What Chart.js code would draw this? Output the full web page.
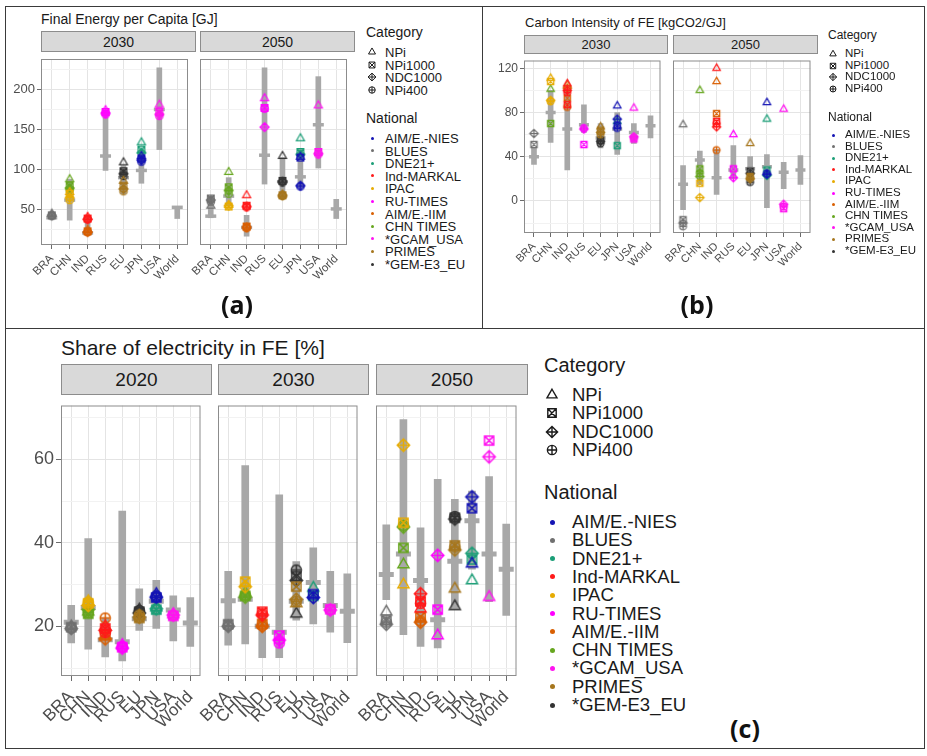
<!DOCTYPE html>
<html>
<head>
<meta charset="utf-8">
<script src="https://cdn.jsdelivr.net/npm/chart.js@4.4.1/dist/chart.umd.min.js"></script>
<style>
  body { margin: 0; background: #fff; }
  #fig { position: relative; width: 927px; height: 756px; overflow: hidden; background: #fff;
         font-family: "Liberation Sans", Arial, sans-serif; color: #1a1a1a; }
  #fig canvas { position: absolute; }
  .strip { position: absolute; background: #d9d9d9; border: 1px solid #8c8c8c; box-sizing: border-box;
           display: flex; align-items: center; justify-content: center; color: #1a1a1a; }
  .txt { position: absolute; white-space: nowrap; line-height: 1; transform: translateY(-50%); }
  .line { position: absolute; background: #3a3a3a; }
  .plabel { position: absolute; font-family: "Open Sans", sans-serif; font-weight: bold; line-height: 1;
            transform: translate(-50%, -50%); color: #111; }
</style>
</head>
<body>
<div id="fig"></div>
<script>
const countries = ["BRA", "CHN", "IND", "RUS", "EU", "JPN", "USA", "World"];
const categories = ["NPi", "NPi1000", "NDC1000", "NPi400"];
const models = ["AIM/E.-NIES", "BLUES", "DNE21+", "Ind-MARKAL", "IPAC", "RU-TIMES",
                "AIM/E.-IIM", "CHN TIMES", "*GCAM_USA", "PRIMES", "*GEM-E3_EU"];
const modelColors = ["#1414b4", "#707070", "#1b9e77", "#ff1a1a", "#e6ab02", "#ff00ff",
                     "#d95f02", "#66a61e", "#ff14f0", "#a6761d", "#333333"];

// ---- (a) Final Energy per Capita [GJ] ----
const feLow2030  = [39, 37, 18, 99, 70, 83, 125, 39];
const feHigh2030 = [45, 88, 41, 174, 105, 125, 227, 54];
const feMed2030  = [40, 62, 21, 117, 90, 99, 175, 53];
const feLow2050  = [40, 55, 17, 82, 64, 78, 102, 39];
const feHigh2050 = [66, 90, 43, 227, 115, 125, 216, 63];
const feMed2050  = [42, 67, 28, 118, 85, 91, 156, 51];
const fePts2030 = [
  ["BRA","BLUES","NPi",45],["BRA","BLUES","NPi1000",43],["BRA","BLUES","NDC1000",43],["BRA","BLUES","NPi400",42],
  ["CHN","CHN TIMES","NPi",88],["CHN","CHN TIMES","NPi1000",80],["CHN","CHN TIMES","NDC1000",77],["CHN","CHN TIMES","NPi400",75],
  ["CHN","IPAC","NPi",72],["CHN","IPAC","NPi1000",70],["CHN","IPAC","NDC1000",65],["CHN","IPAC","NPi400",62],
  ["IND","Ind-MARKAL","NPi",41],["IND","Ind-MARKAL","NPi1000",39],["IND","Ind-MARKAL","NDC1000",38],["IND","Ind-MARKAL","NPi400",38],
  ["IND","AIM/E.-IIM","NPi",25],["IND","AIM/E.-IIM","NPi1000",23],["IND","AIM/E.-IIM","NDC1000",22],["IND","AIM/E.-IIM","NPi400",22],
  ["RUS","RU-TIMES","NPi",174],["RUS","RU-TIMES","NPi1000",172],["RUS","RU-TIMES","NDC1000",170],["RUS","RU-TIMES","NPi400",169],
  ["EU","*GEM-E3_EU","NPi",109],["EU","*GEM-E3_EU","NPi1000",98],["EU","*GEM-E3_EU","NDC1000",95],["EU","*GEM-E3_EU","NPi400",92],
  ["EU","PRIMES","NPi",86],["EU","PRIMES","NPi1000",80],["EU","PRIMES","NDC1000",76],["EU","PRIMES","NPi400",73],
  ["JPN","DNE21+","NPi",134],["JPN","DNE21+","NPi1000",125],["JPN","DNE21+","NDC1000",121],
  ["JPN","AIM/E.-NIES","NPi",117],["JPN","AIM/E.-NIES","NPi1000",114],["JPN","AIM/E.-NIES","NDC1000",112],["JPN","AIM/E.-NIES","NPi400",110],
  ["USA","*GCAM_USA","NPi",181],["USA","*GCAM_USA","NPi1000",172],["USA","*GCAM_USA","NDC1000",169],["USA","*GCAM_USA","NPi400",167]
];
const fePts2050 = [
  ["BRA","BLUES","NPi",55],["BRA","BLUES","NPi1000",64],["BRA","BLUES","NDC1000",62],["BRA","BLUES","NPi400",60],
  ["CHN","CHN TIMES","NPi",97],["CHN","CHN TIMES","NPi1000",78],["CHN","CHN TIMES","NDC1000",74],["CHN","CHN TIMES","NPi400",70],
  ["CHN","IPAC","NPi",56],["CHN","IPAC","NPi1000",54],["CHN","IPAC","NDC1000",55],
  ["IND","Ind-MARKAL","NPi",68],["IND","Ind-MARKAL","NPi1000",55],["IND","Ind-MARKAL","NDC1000",54],["IND","Ind-MARKAL","NPi400",53],
  ["IND","AIM/E.-IIM","NPi1000",29],["IND","AIM/E.-IIM","NDC1000",28],["IND","AIM/E.-IIM","NPi400",27],
  ["RUS","RU-TIMES","NPi",189],["RUS","RU-TIMES","NPi1000",177],["RUS","RU-TIMES","NDC1000",153],["RUS","RU-TIMES","NPi400",176],
  ["EU","*GEM-E3_EU","NPi",117],["EU","*GEM-E3_EU","NPi1000",86],["EU","*GEM-E3_EU","NDC1000",85],["EU","*GEM-E3_EU","NPi400",84],
  ["EU","PRIMES","NPi",69],["EU","PRIMES","NPi1000",68],["EU","PRIMES","NDC1000",68],["EU","PRIMES","NPi400",67],
  ["JPN","DNE21+","NPi",139],["JPN","DNE21+","NPi1000",122],["JPN","DNE21+","NDC1000",119],
  ["JPN","AIM/E.-NIES","NPi",116],["JPN","AIM/E.-NIES","NPi1000",115],["JPN","AIM/E.-NIES","NDC1000",80],["JPN","AIM/E.-NIES","NPi400",79],
  ["USA","*GCAM_USA","NPi",180],["USA","*GCAM_USA","NPi1000",122],["USA","*GCAM_USA","NDC1000",120],["USA","*GCAM_USA","NPi400",119]
];

// ---- (b) Carbon Intensity of FE [kgCO2/GJ] ----
const ciLow2030  = [33, 53, 28, 62, 48, 42, 52, 57];
const ciHigh2030 = [48, 100, 100, 87, 70, 80, 70, 77];
const ciMed2030  = [40, 80, 65, 69, 57, 65, 62, 68];
const ciLow2050  = [-8, 15, 6, 20, 15, -6, 11, 15];
const ciHigh2050 = [32, 45, 47, 50, 40, 42, 35, 41];
const ciMed2050  = [15, 37, 21, 28, 29, 31, 26, 28];
const ciPts2030 = [
  ["BRA","BLUES","NDC1000",61],["BRA","BLUES","NPi1000",51],
  ["CHN","IPAC","NPi",111],["CHN","IPAC","NPi1000",108],["CHN","IPAC","NDC1000",91],["CHN","IPAC","NPi400",90],
  ["CHN","CHN TIMES","NPi",101],["CHN","CHN TIMES","NPi1000",70],
  ["IND","Ind-MARKAL","NPi",106],["IND","Ind-MARKAL","NPi1000",87],["IND","Ind-MARKAL","NDC1000",100],["IND","Ind-MARKAL","NPi400",98],
  ["IND","AIM/E.-IIM","NPi",105],["IND","AIM/E.-IIM","NPi1000",93],["IND","AIM/E.-IIM","NDC1000",102],["IND","AIM/E.-IIM","NPi400",85],
  ["RUS","RU-TIMES","NPi1000",51],["RUS","RU-TIMES","NDC1000",65],["RUS","RU-TIMES","NPi400",66],
  ["EU","PRIMES","NPi",67],["EU","PRIMES","NPi1000",64],["EU","PRIMES","NDC1000",62],["EU","PRIMES","NPi400",60],
  ["EU","*GEM-E3_EU","NPi1000",55],["EU","*GEM-E3_EU","NDC1000",54],["EU","*GEM-E3_EU","NPi400",52],
  ["JPN","AIM/E.-NIES","NPi",86],["JPN","AIM/E.-NIES","NPi1000",68],["JPN","AIM/E.-NIES","NDC1000",74],["JPN","AIM/E.-NIES","NPi400",66],
  ["JPN","DNE21+","NPi",72],["JPN","DNE21+","NPi1000",50],
  ["USA","*GCAM_USA","NPi",84],["USA","*GCAM_USA","NPi1000",56],["USA","*GCAM_USA","NDC1000",58],["USA","*GCAM_USA","NPi400",57]
];
const ciPts2050 = [
  ["BRA","BLUES","NPi",69],["BRA","BLUES","NPi1000",-17],["BRA","BLUES","NDC1000",-20],["BRA","BLUES","NPi400",-23],
  ["CHN","CHN TIMES","NPi",100],["CHN","CHN TIMES","NPi1000",29],["CHN","CHN TIMES","NDC1000",22],["CHN","CHN TIMES","NPi400",25],
  ["CHN","IPAC","NPi1000",16],["CHN","IPAC","NDC1000",3],
  ["IND","Ind-MARKAL","NPi",120],["IND","Ind-MARKAL","NPi1000",72],["IND","Ind-MARKAL","NDC1000",67],["IND","Ind-MARKAL","NPi400",70],
  ["IND","AIM/E.-IIM","NPi",108],["IND","AIM/E.-IIM","NPi1000",79],["IND","AIM/E.-IIM","NPi400",46],
  ["RUS","RU-TIMES","NPi",60],["RUS","RU-TIMES","NPi1000",29],["RUS","RU-TIMES","NDC1000",21],
  ["EU","PRIMES","NPi",52],["EU","PRIMES","NPi1000",22],["EU","PRIMES","NDC1000",20],["EU","PRIMES","NPi400",21],
  ["EU","*GEM-E3_EU","NPi1000",27],["EU","*GEM-E3_EU","NDC1000",25],["EU","*GEM-E3_EU","NPi400",17],
  ["JPN","AIM/E.-NIES","NPi",89],["JPN","AIM/E.-NIES","NDC1000",24],["JPN","AIM/E.-NIES","NPi400",25],
  ["JPN","DNE21+","NPi",74],["JPN","DNE21+","NPi1000",28],["JPN","DNE21+","NDC1000",23],
  ["USA","*GCAM_USA","NPi",83],["USA","*GCAM_USA","NPi1000",-7],["USA","*GCAM_USA","NDC1000",-3],["USA","*GCAM_USA","NPi400",-5]
];

// ---- (c) Share of electricity in FE [%] ----
const elLow2020  = [16, 14.5, 12.7, 11.7, 19, 19.5, 16.5, 15.2];
const elHigh2020 = [25, 41, 22, 47.6, 29, 31, 27.3, 26.9];
const elMed2020  = [21, 24.5, 16.8, 16.3, 21.8, 26, 23.9, 20.8];
const elLow2030  = [15.5, 15.8, 12.5, 12.5, 21.5, 20.6, 18.6, 16.1];
const elHigh2030 = [33.2, 58.5, 23, 51.5, 35.5, 38.8, 33.2, 32.6];
const elMed2030  = [26.1, 26.5, 20, 18.6, 26, 30.5, 25, 23.6];
const elLow2050  = [26.4, 18, 15.2, 14.8, 24.2, 33.7, 25.9, 22.6];
const elHigh2050 = [44.3, 69.5, 43.6, 55.2, 50.4, 52.4, 55.9, 44.5];
const elMed2050  = [32.4, 37.3, 31, 21.6, 35.6, 45.3, 37.3, 33.7];
const elPts2020 = [
  ["BRA","BLUES","NPi",20],["BRA","BLUES","NPi1000",19.8],["BRA","BLUES","NDC1000",19.5],["BRA","BLUES","NPi400",19.6],
  ["CHN","IPAC","NPi",26],["CHN","IPAC","NPi1000",25.5],["CHN","IPAC","NDC1000",25],["CHN","IPAC","NPi400",25.8],
  ["CHN","CHN TIMES","NPi",23.5],["CHN","CHN TIMES","NPi1000",23],["CHN","CHN TIMES","NDC1000",24],["CHN","CHN TIMES","NPi400",23.3],
  ["IND","Ind-MARKAL","NPi",20],["IND","Ind-MARKAL","NPi1000",19.5],["IND","Ind-MARKAL","NDC1000",19],["IND","Ind-MARKAL","NPi400",18.5],
  ["IND","AIM/E.-IIM","NPi",17.5],["IND","AIM/E.-IIM","NPi1000",18],["IND","AIM/E.-IIM","NDC1000",17],["IND","AIM/E.-IIM","NPi400",22],
  ["RUS","RU-TIMES","NPi",15.5],["RUS","RU-TIMES","NPi1000",15],["RUS","RU-TIMES","NDC1000",14.8],["RUS","RU-TIMES","NPi400",15.2],
  ["EU","*GEM-E3_EU","NPi",24],["EU","*GEM-E3_EU","NPi1000",23.5],["EU","*GEM-E3_EU","NDC1000",23.2],["EU","*GEM-E3_EU","NPi400",23.8],
  ["EU","PRIMES","NPi",22.5],["EU","PRIMES","NPi1000",22],["EU","PRIMES","NDC1000",22.2],["EU","PRIMES","NPi400",22.7],
  ["JPN","AIM/E.-NIES","NPi",27.7],["JPN","AIM/E.-NIES","NPi1000",26.9],["JPN","AIM/E.-NIES","NDC1000",27],["JPN","AIM/E.-NIES","NPi400",27.3],
  ["JPN","DNE21+","NPi",24.5],["JPN","DNE21+","NPi1000",24],["JPN","DNE21+","NDC1000",24.2],
  ["USA","*GCAM_USA","NPi",22.9],["USA","*GCAM_USA","NPi1000",22.5],["USA","*GCAM_USA","NDC1000",22.7],["USA","*GCAM_USA","NPi400",22.6]
];
const elPts2030 = [
  ["BRA","BLUES","NPi1000",20.5],["BRA","BLUES","NDC1000",20],["BRA","BLUES","NPi400",20.2],
  ["CHN","IPAC","NPi1000",30.7],["CHN","IPAC","NDC1000",29.5],
  ["CHN","CHN TIMES","NPi",28],["CHN","CHN TIMES","NPi1000",27.3],["CHN","CHN TIMES","NDC1000",27],["CHN","CHN TIMES","NPi400",27.5],
  ["IND","Ind-MARKAL","NPi1000",23.5],["IND","Ind-MARKAL","NDC1000",22.7],["IND","Ind-MARKAL","NPi400",23],
  ["IND","AIM/E.-IIM","NPi1000",20.6],["IND","AIM/E.-IIM","NDC1000",20],["IND","AIM/E.-IIM","NPi400",20.3],
  ["RUS","RU-TIMES","NPi1000",17.8],["RUS","RU-TIMES","NDC1000",16.7],["RUS","RU-TIMES","NPi400",16],
  ["EU","*GEM-E3_EU","NPi",23],["EU","*GEM-E3_EU","NPi1000",32],["EU","*GEM-E3_EU","NDC1000",31],["EU","*GEM-E3_EU","NPi400",33.5],
  ["EU","PRIMES","NPi",25.5],["EU","PRIMES","NPi1000",29.5],["EU","PRIMES","NDC1000",26.5],["EU","PRIMES","NPi400",26],
  ["JPN","DNE21+","NPi",29.2],["JPN","DNE21+","NPi1000",27.3],
  ["JPN","AIM/E.-NIES","NPi1000",27.7],["JPN","AIM/E.-NIES","NDC1000",26.9],
  ["USA","*GCAM_USA","NPi1000",24.1],["USA","*GCAM_USA","NDC1000",23.9],["USA","*GCAM_USA","NPi400",24]
];
const elPts2050 = [
  ["BRA","BLUES","NPi",23.5],["BRA","BLUES","NPi1000",21.5],["BRA","BLUES","NDC1000",20.5],["BRA","BLUES","NPi400",21],
  ["CHN","IPAC","NPi",30],["CHN","IPAC","NPi1000",44.8],["CHN","IPAC","NDC1000",63.4],
  ["CHN","CHN TIMES","NPi",34.8],["CHN","CHN TIMES","NPi1000",38.8],["CHN","CHN TIMES","NDC1000",43.8],["CHN","CHN TIMES","NPi400",44.2],
  ["IND","Ind-MARKAL","NPi",24.2],["IND","Ind-MARKAL","NPi1000",26],["IND","Ind-MARKAL","NDC1000",27.8],["IND","Ind-MARKAL","NPi400",25.5],
  ["IND","AIM/E.-IIM","NPi1000",22.3],["IND","AIM/E.-IIM","NDC1000",21],["IND","AIM/E.-IIM","NPi400",21.3],
  ["RUS","RU-TIMES","NPi",17.8],["RUS","RU-TIMES","NPi1000",24],["RUS","RU-TIMES","NDC1000",37],
  ["EU","*GEM-E3_EU","NPi",24.8],["EU","*GEM-E3_EU","NPi1000",46],["EU","*GEM-E3_EU","NDC1000",45.7],["EU","*GEM-E3_EU","NPi400",46.3],
  ["EU","PRIMES","NPi",29],["EU","PRIMES","NPi1000",39.4],["EU","PRIMES","NDC1000",38.3],["EU","PRIMES","NPi400",39],
  ["JPN","AIM/E.-NIES","NPi",35],["JPN","AIM/E.-NIES","NPi1000",48.3],["JPN","AIM/E.-NIES","NDC1000",51],
  ["JPN","DNE21+","NPi",31],["JPN","DNE21+","NPi1000",36],["JPN","DNE21+","NDC1000",37.5],
  ["USA","*GCAM_USA","NPi",27],["USA","*GCAM_USA","NPi1000",64.5],["USA","*GCAM_USA","NDC1000",60.6]
];

const fig = document.getElementById("fig");
const FONT = '"Liberation Sans", Arial, sans-serif';
const GRAY = "#a8a8a8";

// ggplot-ish open shapes, drawn once per colour and reused as point styles
const markerCache = {};
function marker(cat, color, s, lw) {
  const key = [cat, color, s, lw].join("|");
  if (markerCache[key]) return markerCache[key];
  const n = Math.ceil(s + lw * 2 + 3);
  const cv = document.createElement("canvas");
  cv.width = n; cv.height = n;
  const g = cv.getContext("2d");
  const c = n / 2;
  g.strokeStyle = color; g.lineWidth = lw;
  g.beginPath();
  if (cat === "NPi") {
    const R = s / 1.732;
    g.moveTo(c, c - R);
    g.lineTo(c + R * 0.866, c + R * 0.5);
    g.lineTo(c - R * 0.866, c + R * 0.5);
    g.closePath();
  } else if (cat === "NPi1000") {
    const h = s * 0.42;
    g.rect(c - h, c - h, 2 * h, 2 * h);
    g.moveTo(c - h, c - h); g.lineTo(c + h, c + h);
    g.moveTo(c + h, c - h); g.lineTo(c - h, c + h);
  } else if (cat === "NDC1000") {
    const r = s * 0.56;
    g.moveTo(c, c - r); g.lineTo(c + r, c); g.lineTo(c, c + r); g.lineTo(c - r, c); g.closePath();
    g.moveTo(c, c - r); g.lineTo(c, c + r);
    g.moveTo(c - r, c); g.lineTo(c + r, c);
  } else {
    const r = s * 0.46;
    g.arc(c, c, r, 0, Math.PI * 2);
    g.moveTo(c, c - r); g.lineTo(c, c + r);
    g.moveTo(c - r, c); g.lineTo(c + r, c);
  }
  g.stroke();
  markerCache[key] = cv;
  return cv;
}

const panelBorder = {
  id: "panelBorder",
  afterDraw(ch) {
    const a = ch.chartArea, g = ch.ctx;
    g.save();
    g.strokeStyle = "#8c8c8c"; g.lineWidth = 1;
    g.strokeRect(a.left + 0.5, a.top + 0.5, a.right - a.left - 1, a.bottom - a.top - 1);
    g.restore();
  }
};

function text(str, x, y, size, extra) {
  const d = document.createElement("div");
  d.className = "txt";
  d.textContent = str;
  d.style.left = x + "px"; d.style.top = y + "px"; d.style.fontSize = size + "px";
  if (extra) Object.assign(d.style, extra);
  fig.appendChild(d);
}

function facet(p, f, low, high, med, pts, showY) {
  const cv = document.createElement("canvas");
  const W = p.padL + f.w + 1, H = 1 + p.h + p.xH;
  cv.width = W; cv.height = H;
  cv.style.left = (f.x - p.padL) + "px";
  cv.style.top = (p.top - 1) + "px";
  fig.appendChild(cv);

  const strip = document.createElement("div");
  strip.className = "strip";
  strip.textContent = f.label;
  Object.assign(strip.style, { left: f.x + "px", top: p.stripTop + "px", width: f.w + "px",
    height: (p.top - p.stripTop + 1) + "px", fontSize: p.stripFont + "px" });
  fig.appendChild(strip);

  const datasets = [];
  models.forEach((m, mi) => {
    const rows = pts.filter(r => r[1] === m);
    if (!rows.length) return;
    datasets.push({
      type: "scatter", order: 0,
      data: rows.map(r => ({ x: countries.indexOf(r[0]), y: r[3], cat: r[2] })),
      pointStyle: c => marker(c.raw.cat, modelColors[mi], p.mk, p.lw),
      pointRadius: 4
    });
  });
  datasets.push({
    type: "scatter", order: 1,
    data: med.map((v, i) => ({ x: i, y: v })),
    pointStyle: "line", pointRadius: p.medW / 2, borderWidth: p.medT,
    borderColor: GRAY, backgroundColor: GRAY
  });
  datasets.push({
    type: "bar", order: 2,
    data: low.map((v, i) => ({ x: i, y: [v, high[i]] })),
    backgroundColor: GRAY, barThickness: p.barW, borderWidth: 0
  });

  const ticksY = p.minor.concat(p.major).sort((a, b) => a - b);
  new Chart(cv, {
    type: "bar",
    data: { datasets },
    plugins: [panelBorder],
    options: {
      responsive: false, animation: false, devicePixelRatio: 1,
      layout: { padding: { top: 1, right: 1, left: 0, bottom: 0 } },
      plugins: { legend: { display: false }, tooltip: { enabled: false } },
      scales: {
        x: {
          type: "linear", min: -0.6, max: 7.6, offset: false,
          afterBuildTicks: s => { s.ticks = countries.map((c, i) => ({ value: i })); },
          afterFit: s => { s.height = p.xH; s.paddingLeft = 0; s.paddingRight = 0; },
          grid: { offset: false, color: "#e4e4e4", tickLength: p.tickLen, tickColor: "#6b6b6b" },
          border: { display: false },
          ticks: { autoSkip: false, minRotation: 45, maxRotation: 45, padding: p.xPad, color: "#4d4d4d",
                   font: { size: p.xFont, family: FONT }, callback: v => countries[v] }
        },
        y: {
          type: "linear", min: p.yMin, max: p.yMax,
          afterBuildTicks: s => { s.ticks = ticksY.map(v => ({ value: v })); },
          afterFit: s => { s.width = p.padL; s.paddingTop = 0; s.paddingBottom = 0; },
          grid: {
            color: c => (c.tick && p.major.includes(c.tick.value)) ? "#e4e4e4" : "#f2f2f2",
            tickLength: p.tickLen,
            tickColor: c => (showY && c.tick && p.major.includes(c.tick.value)) ? "#6b6b6b" : "rgba(0,0,0,0)"
          },
          border: { display: false },
          ticks: { display: showY, autoSkip: false, padding: 2, color: "#4d4d4d",
                   font: { size: p.tickFont, family: FONT },
                   callback: v => p.major.includes(v) ? String(v) : "" }
        }
      }
    }
  });
}

function legend(L) {
  text("Category", L.x, L.catTitleY, L.titleFont);
  categories.forEach((c, i) => {
    const y = L.catY0 + i * L.step;
    const src = marker(c, "#1a1a1a", L.sym, L.symLw);
    const cv = document.createElement("canvas");
    cv.width = src.width; cv.height = src.height;
    cv.getContext("2d").drawImage(src, 0, 0);
    cv.style.left = (L.symX - src.width / 2) + "px";
    cv.style.top = (y - src.height / 2) + "px";
    fig.appendChild(cv);
    text(c, L.textX, y, L.itemFont);
  });
  text("National", L.x, L.natTitleY, L.titleFont);
  models.forEach((m, i) => {
    const y = L.natY0 + i * L.step;
    const d = document.createElement("div");
    Object.assign(d.style, { position: "absolute", left: (L.symX - L.dot / 2) + "px", top: (y - L.dot / 2) + "px",
      width: L.dot + "px", height: L.dot + "px", borderRadius: "50%", background: modelColors[i] });
    fig.appendChild(d);
    text(m, L.textX, y, L.itemFont);
  });
}

function hline(x, y, w) { const d = document.createElement("div"); d.className = "line";
  Object.assign(d.style, { left: x + "px", top: y + "px", width: w + "px", height: "1px" }); fig.appendChild(d); }
function vline(x, y, h) { const d = document.createElement("div"); d.className = "line";
  Object.assign(d.style, { left: x + "px", top: y + "px", width: "1px", height: h + "px" }); fig.appendChild(d); }

// figure frame
hline(5, 6, 920); hline(5, 748, 920); hline(5, 328, 920);
vline(5, 6, 743); vline(924, 6, 743); vline(482, 6, 322);

// ---- panel (a)
const pA = { top: 51, h: 194, stripTop: 31, stripFont: 14, padL: 40, xH: 45, yMin: 6, yMax: 238,
  major: [50, 100, 150, 200], minor: [25, 75, 125, 175, 225], tickFont: 13, xFont: 11.5, xPad: 3,
  tickLen: 4, barW: 5, medW: 11, medT: 3.5, mk: 8, lw: 1.2 };
text("Final Energy per Capita [GJ]", 41, 19, 14);
facet(pA, { x: 41, w: 155, label: "2030" }, feLow2030, feHigh2030, feMed2030, fePts2030, true);
facet(pA, { x: 200, w: 155, label: "2050" }, feLow2050, feHigh2050, feMed2050, fePts2050, false);
legend({ x: 366, catTitleY: 32, catY0: 52, step: 12.6, natTitleY: 118, natY0: 138, symX: 372, textX: 385,
  titleFont: 14, itemFont: 13, sym: 7, symLw: 1, dot: 3 });

// ---- panel (b)
const pB = { top: 53, h: 180, stripTop: 35, stripFont: 13, padL: 40, xH: 45, yMin: -29, yMax: 127,
  major: [0, 40, 80, 120], minor: [-20, 20, 60, 100], tickFont: 12, xFont: 11, xPad: 3,
  tickLen: 4, barW: 5, medW: 10, medT: 3.5, mk: 7.5, lw: 1.2 };
text("Carbon Intensity of FE [kgCO2/GJ]", 525, 22, 13);
facet(pB, { x: 524, w: 144, label: "2030" }, ciLow2030, ciHigh2030, ciMed2030, ciPts2030, true);
facet(pB, { x: 673, w: 145, label: "2050" }, ciLow2050, ciHigh2050, ciMed2050, ciPts2050, false);
legend({ x: 828, catTitleY: 35, catY0: 54, step: 11.6, natTitleY: 117, natY0: 135, symX: 833, textX: 845,
  titleFont: 12, itemFont: 11.5, sym: 6.5, symLw: 1, dot: 3 });

// ---- panel (c)
const pC = { top: 394, h: 282, stripTop: 364, stripFont: 19, padL: 56, xH: 62, yMin: 8.1, yMax: 72.9,
  major: [20, 40, 60], minor: [10, 30, 50, 70], tickFont: 18, xFont: 17, xPad: 6,
  tickLen: 5, barW: 7, medW: 15, medT: 5, mk: 11, lw: 1.5 };
text("Share of electricity in FE [%]", 61, 347, 21);
facet(pC, { x: 61, w: 151, label: "2020" }, elLow2020, elHigh2020, elMed2020, elPts2020, true);
facet(pC, { x: 218, w: 151, label: "2030" }, elLow2030, elHigh2030, elMed2030, elPts2030, false);
facet(pC, { x: 376, w: 152, label: "2050" }, elLow2050, elHigh2050, elMed2050, elPts2050, false);
legend({ x: 544, catTitleY: 365, catY0: 395, step: 18.3, natTitleY: 492, natY0: 522, symX: 552, textX: 572,
  titleFont: 20, itemFont: 18.5, sym: 10, symLw: 1.4, dot: 5 });

// panel tags
[["(a)", 237, 304], ["(b)", 697, 304], ["(c)", 745, 728]].forEach(([t, x, y]) => {
  const d = document.createElement("div");
  d.className = "plabel"; d.textContent = t;
  d.style.left = x + "px"; d.style.top = y + "px"; d.style.fontSize = "25px";
  fig.appendChild(d);
});
</script>
</body>
</html>
